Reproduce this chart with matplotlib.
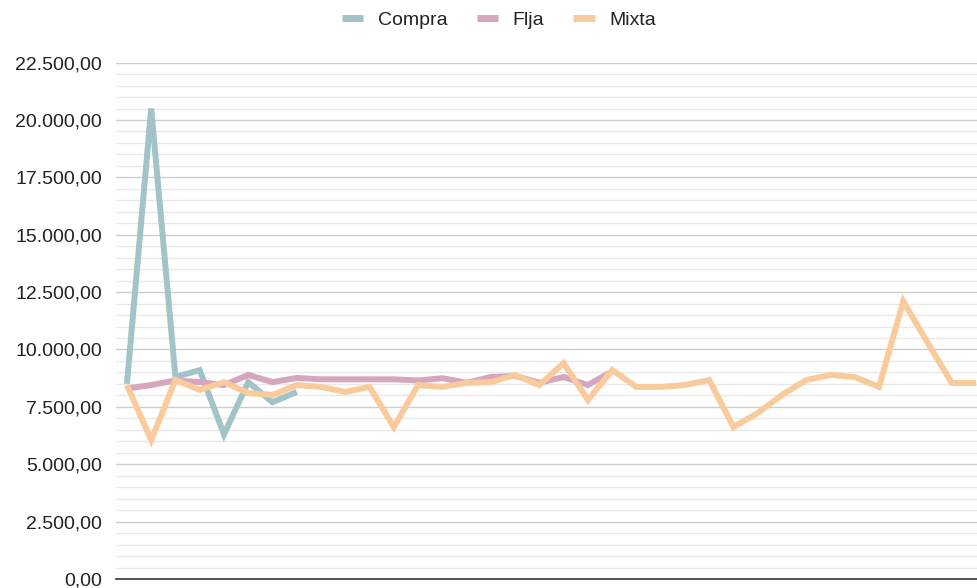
import matplotlib.pyplot as plt
import numpy as np
from matplotlib.ticker import MultipleLocator, FuncFormatter

# series values per period
compra = [8500, 20500, 8800, 9100, 6300, 8580, 7700, 8150]
flja = [8300, 8450, 8650, 8580, 8450, 8890, 8580, 8760, 8700, 8700,
        8700, 8700, 8650, 8750, 8550, 8800, 8850, 8550, 8800, 8450, 9050]
mixta = [8450, 6050, 8670, 8240, 8580, 8100, 8020, 8450, 8370, 8150,
         8370, 6620, 8450, 8370, 8540, 8580, 8890, 8450, 9410, 7800,
         9100, 8370, 8370, 8450, 8670, 6620, 7230, 8020, 8670, 8890,
         8800, 8370, 12100, 10300, 8540, 8540]

series_names = ['Compra', 'Flja', 'Mixta']
colors = ['#a2c4c9', '#d5a6bd', '#f9cb9c']

plt.rcParams['font.family'] = ['Liberation Sans', 'DejaVu Sans']

fig = plt.figure(figsize=(9.78, 5.88), dpi=100)
ax = fig.add_axes([116 / 978, 1 - 579 / 588, 1 - 116 / 978, (579 - 62.6) / 588])

lines = []
for name, vals, c in zip(series_names, [compra, flja, mixta], colors):
    ln, = ax.plot(np.arange(len(vals)), vals, color=c, linewidth=4.3,
                  solid_joinstyle='miter', solid_capstyle='butt', label=name, zorder=3)
    lines.append(ln)

ax.set_xlim(-0.45, 35.08)
ax.set_ylim(0, 22500)
ax.yaxis.set_major_locator(MultipleLocator(2500))
ax.yaxis.set_minor_locator(MultipleLocator(500))


def fmt(v, pos):
    s = f'{v:,.2f}'
    return s.replace(',', 'X').replace('.', ',').replace('X', '.')


ax.yaxis.set_major_formatter(FuncFormatter(fmt))
ax.grid(axis='y', which='major', color='#cccccc', linewidth=1)
ax.grid(axis='y', which='minor', color='#e8e8e8', linewidth=1)
ax.set_axisbelow(True)
ax.tick_params(axis='y', which='both', length=0, labelsize=14, labelcolor='#222222', pad=10)
ax.set_xticks([])
for s in ['top', 'right', 'left']:
    ax.spines[s].set_visible(False)
ax.spines['bottom'].set_color('#333333')
ax.spines['bottom'].set_linewidth(1.2)

leg = fig.legend(handles=lines, loc='center', bbox_to_anchor=(499 / 978, 1 - 20 / 588),
                 ncol=3, frameon=False, fontsize=14, handlelength=1.1,
                 handletextpad=0.75, columnspacing=1.5, labelcolor='#222222')
for h in leg.legend_handles:
    h.set_linewidth(5)

fig.savefig('out.png', dpi=100)
